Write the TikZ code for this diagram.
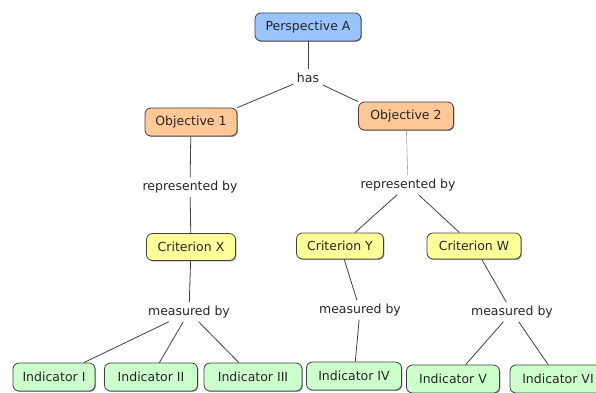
\documentclass[tikz,border=0pt]{standalone}
\usepackage{fontspec}
\setmainfont{DejaVu Sans}
\usetikzlibrary{shadows}
\definecolor{cblue}{HTML}{99C4FF}
\definecolor{corange}{HTML}{FFC896}
\definecolor{cyellow}{HTML}{FFFF99}
\definecolor{cgreen}{HTML}{CCFFCC}
\begin{document}
\begin{tikzpicture}[x=1pt,y=-1pt,
  box/.style={draw=black!75, rounded corners=6pt, minimum height=28pt, inner sep=2pt,
    font=\fontsize{12.5}{14}\selectfont, text=black!85, line width=0.8pt,
    drop shadow={shadow xshift=0.9pt,shadow yshift=-0.9pt,fill=black!40,opacity=1}},
  lab/.style={inner sep=3.5pt, font=\fontsize{12.5}{14}\selectfont, text=black!85},
  conn/.style={draw=black!75, line width=0.8pt},
  lconn/.style={draw=black!35, line width=0.6pt}]
\useasboundingbox (0,0) rectangle (596,392);
\clip (0,0) rectangle (596,392);
% concepts
\node[box, fill=cblue, minimum width=106pt] (persp) at (308,27) {Perspective A};
\node[box, fill=corange, minimum width=92pt] (obj1) at (191,122) {Objective 1};
\node[box, fill=corange, minimum width=95pt] (obj2) at (406,116) {Objective 2};
\node[box, fill=cyellow, minimum width=89pt, minimum height=27pt] (critx) at (191,247) {Criterion X};
\node[box, fill=cyellow, minimum width=87pt, minimum height=26pt] (crity) at (340,246) {Criterion Y};
\node[box, fill=cyellow, minimum width=94pt, minimum height=26pt] (critw) at (474,246) {Criterion W};
\node[box, fill=cgreen, minimum width=82pt] (ind1) at (54,377) {Indicator I};
\node[box, fill=cgreen, minimum width=93pt] (ind2) at (151,377) {Indicator II};
\node[box, fill=cgreen, minimum width=98pt] (ind3) at (253,377) {Indicator III};
\node[box, fill=cgreen, minimum width=95pt] (ind4) at (354,376) {Indicator IV};
\node[box, fill=cgreen, minimum width=93pt] (ind5) at (453,379) {Indicator V};
\node[box, fill=cgreen, minimum width=96pt] (ind6) at (558,379) {Indicator VI};
% linking phrases
\node[lab] (has) at (308,78) {has};
\node[lab] (rb1) at (190,187) {represented by};
\node[lab] (rb2) at (408,185) {represented by};
\node[lab] (mb1) at (189,312) {measured by};
\node[lab] (mb2) at (360,310) {measured by};
\node[lab] (mb3) at (512,312) {measured by};
% connectors
\draw[conn] (persp) -- (has);
\draw[conn] (has) -- (obj1.north east);
\draw[conn] (has) -- (obj2.north west);
\draw[conn] (obj1) -- (rb1);
\draw[conn] (rb1) -- (critx);
\draw[lconn] (obj2) -- (rb2);
\draw[conn] (rb2) -- (crity);
\draw[conn] (rb2) -- (critw);
\draw[conn] (critx) -- (mb1);
\draw[conn] (mb1) -- (ind1);
\draw[conn] (mb1) -- (ind2);
\draw[conn] (mb1) -- (ind3);
\draw[conn] (crity) -- (mb2);
\draw[conn] (mb2) -- (ind4);
\draw[conn] (critw) -- (mb3);
\draw[conn] (mb3) -- (ind5);
\draw[conn] (mb3) -- (ind6);
\end{tikzpicture}
\end{document}
